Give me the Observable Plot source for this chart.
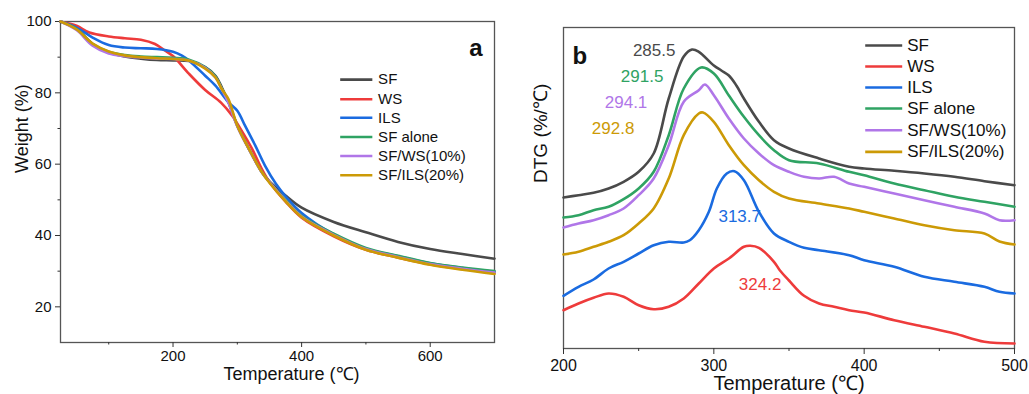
<!DOCTYPE html>
<html>
<head>
<meta charset="utf-8">
<script src="https://cdn.jsdelivr.net/npm/d3@7"></script>
<script src="https://cdn.jsdelivr.net/npm/@observablehq/plot@0.6"></script>
<style>
  html, body { margin: 0; padding: 0; background: #fff; }
  #wrap { position: relative; width: 1029px; height: 394px; overflow: hidden; }
  #pa { position: absolute; left: 0; top: 0; }
  #pb { position: absolute; left: 515px; top: 0; }
</style>
</head>
<body>
<div id="wrap"><div id="pa"></div><div id="pb"></div></div>
<script>
// ---------- series ----------
const seriesNames = ["SF", "WS", "ILS", "SF alone", "SF/WS(10%)", "SF/ILS(20%)"];
const seriesColors = ["#4a4a4a", "#ee3b3b", "#1a6be0", "#2fa363", "#b076e8", "#cc9a06"];

// ---------- panel a: TGA (Temperature °C, Weight %) ----------
const tgaSF = [[25,100],[50,97.9],[75,93.7],[100,91.3],[125,90.2],[150,89.6],[175,89.2],[200,89.1],[225,88.9],[250,87.2],[266,84.8],[276,81.5],[286,77.5],[300,70.8],[318,64.3],[338,57.8],[350,55.2],[375,51.2],[400,47.8],[450,43.8],[500,40.9],[550,38.2],[600,36.2],[650,34.8],[700,33.5]];
const tgaWS = [[25,100],[50,98.8],[70,96.9],[100,95.8],[125,95.3],[150,94.9],[172,93.7],[188,91.8],[200,90.3],[225,85.3],[250,80.8],[275,77.2],[292,73.6],[305,69.9],[323,64.3],[338,58.7],[350,55],[375,49.5],[400,45],[450,39.8],[500,36],[550,33.8],[600,31.9],[650,30.6],[700,29.5]];
const tgaILS = [[25,100],[50,98.3],[75,95.5],[100,93.4],[125,92.7],[150,92.5],[175,92.3],[200,91.5],[214,90.4],[225,89],[250,84.8],[266,82],[286,77.4],[300,75],[312,70.8],[328,65.2],[343,59.6],[360,54.5],[375,51],[400,46.3],[450,40.3],[500,36.3],[550,34.2],[600,32.2],[650,30.9],[700,29.8]];
const tgaSFalone = [[25,100],[50,97.9],[75,93.7],[100,91.5],[125,90.6],[150,90.2],[175,90],[200,89.8],[225,89.3],[250,87.2],[266,84.6],[276,81.2],[286,77.5],[300,70.8],[318,64.3],[338,57.8],[350,55],[375,50],[400,45.5],[450,40.5],[500,36.5],[550,34.3],[600,32.3],[650,31],[700,30]];
const tgaSFWS = [[25,100],[50,97.6],[75,93.2],[100,91],[125,90.3],[150,89.9],[175,89.6],[200,89.5],[225,89],[250,87],[266,84.3],[276,81],[286,77.3],[300,70.6],[318,64.2],[338,57.7],[350,55],[375,49.8],[400,45.3],[450,40.2],[500,36.2],[550,34],[600,32],[650,30.7],[700,29.6]];
const tgaSFILS = [[25,100],[50,97.8],[75,93.8],[100,91.6],[125,90.5],[150,90],[175,89.7],[200,89.5],[225,89],[250,86.8],[266,84.3],[276,81],[286,78.3],[300,70.8],[318,64.3],[338,57.8],[350,54.8],[375,49.6],[400,45.2],[450,40],[500,36],[550,33.8],[600,31.8],[650,30.4],[700,29.2]];

// ---------- panel b: DTG (Temperature °C, offset DTG, arbitrary units) ----------
const dtgSF = [[200,151],[210,153.3],[220,155.7],[230,160],[240,166.7],[250,176.7],[260,195],[270,250],[280,292],[285.5,299],[290,296.7],[300,283],[305,278],[310,273],[315,263],[320,250],[330,226.7],[340,208.3],[350,200],[370,190],[390,181.7],[400,180],[420,177.7],[440,175],[460,171.7],[480,167.3],[500,163.3]];
const dtgWS = [[200,38.3],[210,45],[220,50.7],[230,55],[240,51.7],[250,43.3],[260,39.3],[270,41.7],[280,50],[290,65],[300,80],[310,90],[320,101.7],[324.2,102.7],[330,100.7],[340,86.7],[344,78],[350,68],[360,52.7],[370,45],[380,41.7],[390,38.3],[400,36],[420,28.3],[440,21.7],[460,15],[480,6.7],[500,5]];
const dtgILS = [[200,52.7],[210,61.7],[220,69],[230,80],[240,86.7],[250,95],[260,103.3],[270,106.7],[280,106],[284,108.3],[290,118.3],[296.7,136.7],[302,160],[308.6,175],[313.7,177.3],[320,168.3],[330,136.7],[340,115],[350,106.7],[360,100.7],[370,98.3],[390,93.3],[400,88.3],[420,81.7],[440,71.7],[460,66.7],[480,61.7],[490,56.7],[500,55]];
const dtgSFalone = [[200,131],[210,133.3],[220,138.3],[230,141.7],[240,149.3],[250,160],[260,176.7],[270,213.3],[280,260],[291.5,281],[300,275],[310,253],[320,231.7],[330,213.3],[340,198.3],[350,188.3],[370,185],[390,176.7],[400,173.3],[420,165],[440,158.3],[460,151.7],[480,146.7],[500,141.7]];
const dtgSFWS = [[200,121],[210,125],[220,128.3],[230,133.3],[240,140],[250,153.3],[260,170],[270,203.3],[280,246.7],[290,258.3],[294.1,264],[300,253.3],[310,230],[320,210],[330,195],[340,183.3],[350,176.7],[360,171.7],[370,170],[380,171.7],[390,165],[400,161.7],[420,155],[440,148.3],[460,141.7],[480,135],[490,128.3],[500,128.3]];
const dtgSFILS = [[200,94],[210,96.7],[220,101.7],[230,106.7],[240,113.3],[250,125],[260,140],[270,170],[280,213.3],[290,235],[292.8,236],[300,226.7],[310,203.3],[320,183.3],[330,168.3],[340,156.7],[350,150],[370,145],[390,140],[400,136.7],[420,130],[440,123.3],[460,118.3],[480,115],[490,107],[500,104]];

// peak annotations: peak temperature, series index, label anchor (data units)
const peakTemps = [285.5, 291.5, 294.1, 292.8, 313.7, 324.2];
const peakSeries = [0, 3, 4, 5, 2, 1];
const peakLabelT = [260.3, 252.3, 241.6, 233, 317.2, 330.8];
const peakLabelV = [298, 272, 246, 220, 132, 64];

// legend anchors (data units)
const legendA = {x1: 460, x2: 510, xt: 519, y: [83.7, 78.2, 73.0, 67.6, 62.3, 56.9]};
const legendB = {x1: 400.7, x2: 425.3, xt: 428.6, y: [303, 282, 261, 240, 218.3, 196.6]};

const tgaAll = [tgaSF, tgaWS, tgaILS, tgaSFalone, tgaSFWS, tgaSFILS];
const dtgAll = [dtgSF, dtgWS, dtgILS, dtgSFalone, dtgSFWS, dtgSFILS];

const FONT = "'Liberation Sans', Arial, Helvetica, sans-serif";
const colorScale = {domain: seriesNames, range: seriesColors};

function rows(all) {
  return all.flatMap((arr, i) => arr.map(([t, v]) => ({series: seriesNames[i], t, v})));
}
function legendRows(L) {
  return seriesNames.map((s, i) => ({series: s, y: L.y[i]}));
}

// ---------- Panel a ----------
const tgaRows = rows(tgaAll);
const legA = legendRows(legendA);
const plotA = Plot.plot({
  width: 515, height: 394,
  marginLeft: 60, marginRight: 21, marginTop: 21, marginBottom: 52,
  style: {fontFamily: FONT, color: "#111", background: "#fff"},
  x: {domain: [25, 700]},
  y: {domain: [10, 100]},
  color: colorScale,
  marks: [
    Plot.frame({stroke: "#555", strokeWidth: 1.3}),
    Plot.axisX({ticks: [200, 400, 600], tickSize: 5, tickPadding: 3, fontSize: 15, label: null, stroke: "#333"}),
    Plot.axisX({ticks: [100, 300, 500], tickSize: 2.5, text: null, label: null, stroke: "#333"}),
    Plot.axisY({ticks: [20, 40, 60, 80, 100], tickSize: 5, tickPadding: 4, fontSize: 15, label: null, stroke: "#333"}),
    Plot.axisY({ticks: [30, 50, 70, 90], tickSize: 2.5, text: null, label: null, stroke: "#333"}),
    Plot.line(tgaRows, {x: "t", y: "v", z: "series", stroke: "series", strokeWidth: 2.6, curve: "catmull-rom"}),
    Plot.link(legA, {x1: legendA.x1, x2: legendA.x2, y1: "y", y2: "y", stroke: "series", strokeWidth: 2.6}),
    Plot.text(legA, {x: legendA.xt, y: "y", text: "series", textAnchor: "start", fontSize: 15, fill: "#111"}),
    Plot.text(["a"], {frameAnchor: "top-right", dx: -12, dy: 17, text: d => d, fontSize: 24, fontWeight: "bold", fill: "#111"}),
    Plot.text(["Temperature (℃)"], {frameAnchor: "bottom", dx: 14, dy: 37, text: d => d, fontSize: 18, fill: "#111"}),
    Plot.text(["Weight (%)"], {frameAnchor: "left", dx: -38, dy: -9, rotate: -90, text: d => d, fontSize: 18, fill: "#111"})
  ]
});
document.getElementById("pa").appendChild(plotA);

// ---------- Panel b ----------
const dtgRows = rows(dtgAll);
const legB = legendRows(legendB);
const peakRows = peakTemps.map((p, i) => ({label: p.toFixed(1), series: seriesNames[peakSeries[i]], t: peakLabelT[i], v: peakLabelV[i]}));
const plotB = Plot.plot({
  width: 514, height: 394,
  marginLeft: 48, marginRight: 15, marginTop: 27, marginBottom: 46,
  style: {fontFamily: FONT, color: "#111", background: "#fff"},
  x: {domain: [200, 500]},
  y: {domain: [0, 321], axis: null},
  color: colorScale,
  marks: [
    Plot.frame({stroke: "#555", strokeWidth: 1.3}),
    Plot.axisX({ticks: [200, 300, 400, 500], tickSize: 6, tickPadding: 5, fontSize: 16, label: null, stroke: "#333"}),
    Plot.axisX({ticks: [250, 350, 450], tickSize: 3, text: null, label: null, stroke: "#333"}),
    Plot.line(dtgRows, {x: "t", y: "v", z: "series", stroke: "series", strokeWidth: 2.6, curve: "catmull-rom"}),
    Plot.text(peakRows, {x: "t", y: "v", text: "label", fill: "series", fontSize: 17}),
    Plot.link(legB, {x1: legendB.x1, x2: legendB.x2, y1: "y", y2: "y", stroke: "series", strokeWidth: 2.6}),
    Plot.text(legB, {x: legendB.xt, y: "y", text: "series", textAnchor: "start", fontSize: 17, fill: "#111"}),
    Plot.text(["b"], {frameAnchor: "top-left", dx: 9, dy: 19, text: d => d, fontSize: 24, fontWeight: "bold", fill: "#111"}),
    Plot.text(["Temperature (℃)"], {frameAnchor: "bottom", dy: 41, text: d => d, fontSize: 20, fill: "#111"}),
    Plot.text(["DTG (%/℃)"], {frameAnchor: "left", dx: -23, dy: -5, rotate: -90, text: d => d, fontSize: 19, fill: "#111"})
  ]
});
document.getElementById("pb").appendChild(plotB);
</script>
</body>
</html>
